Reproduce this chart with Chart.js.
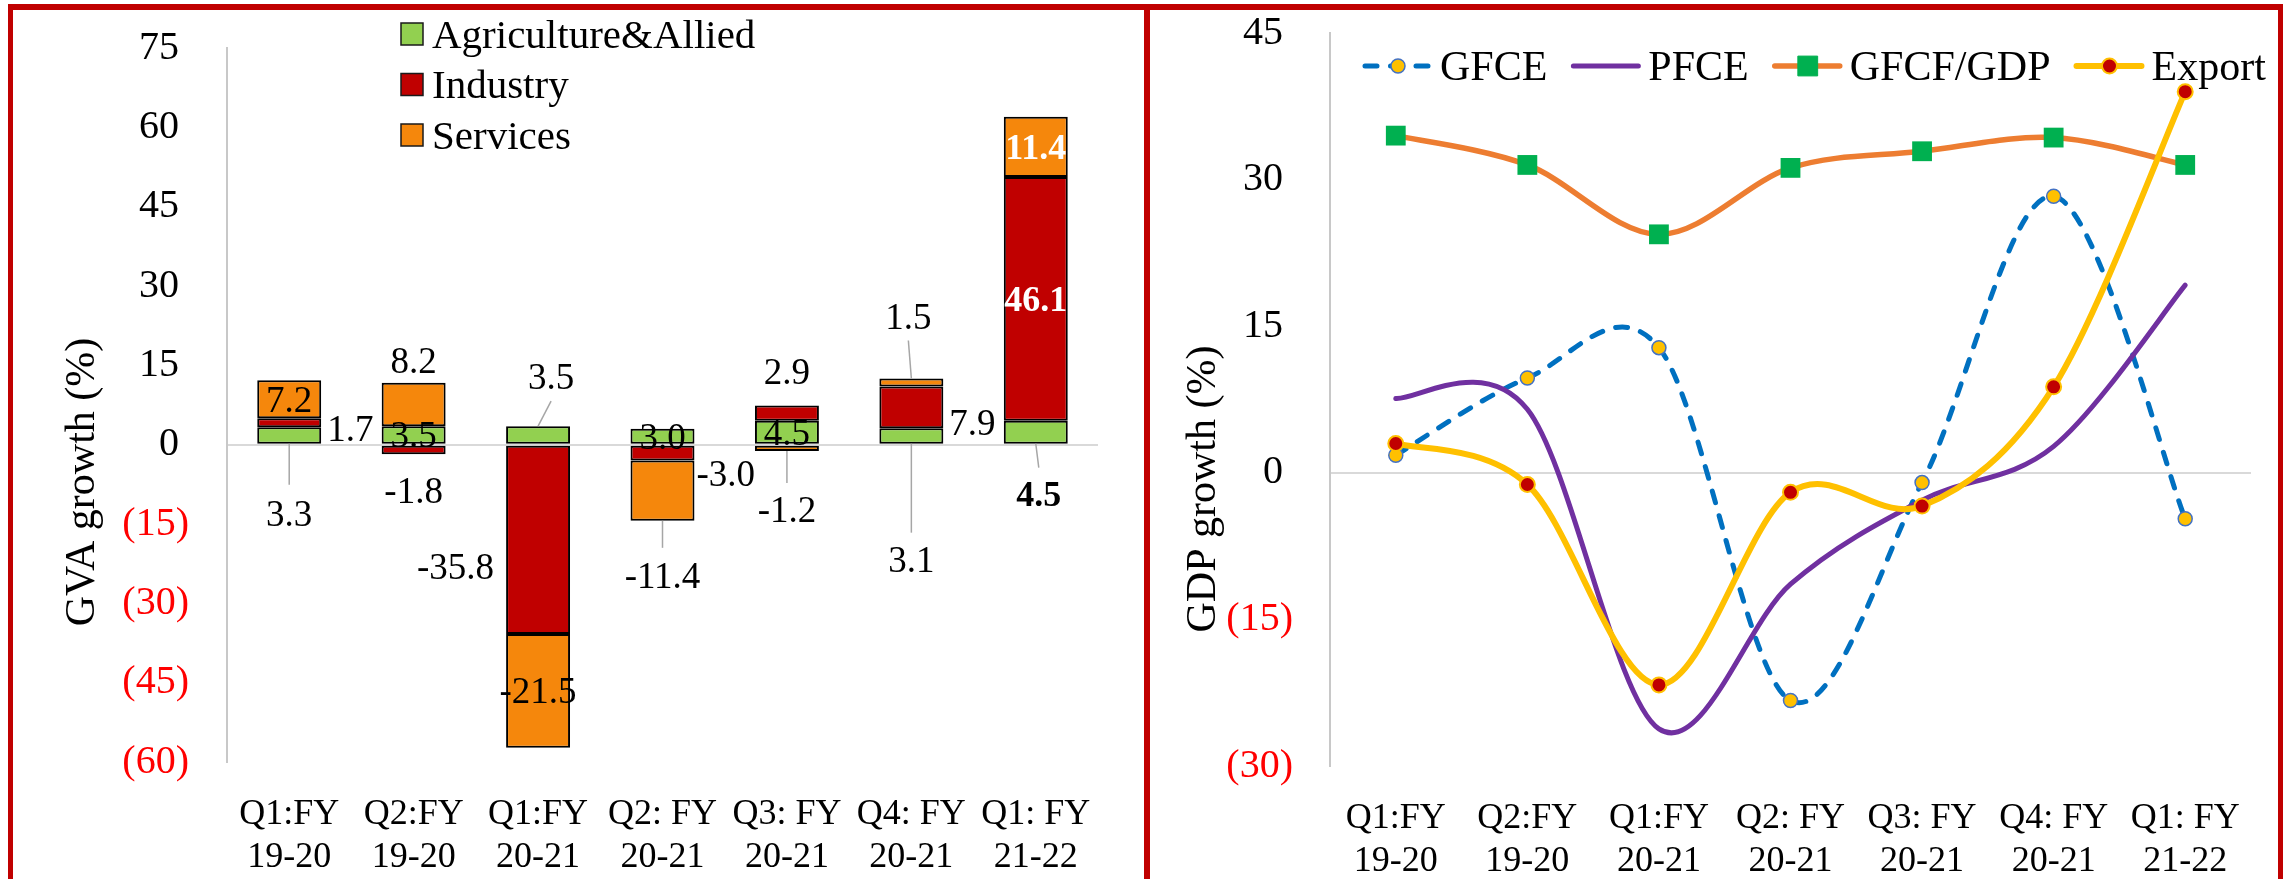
<!DOCTYPE html>
<html>
<head>
<meta charset="utf-8">
<script src="https://cdn.jsdelivr.net/npm/chart.js@4.4.1/dist/chart.umd.min.js"></script>
<style>
  html, body { margin: 0; padding: 0; background: #fff; }
  body { width: 2290px; height: 879px; position: relative; overflow: hidden; }
  canvas { position: absolute; top: 0; }
  #gva { left: 0; }
  #gdp { left: 1143px; }
  .frame { position: absolute; background: #C00000; }
</style>
</head>
<body>
<canvas id="gva" width="1143" height="879"></canvas>
<canvas id="gdp" width="1147" height="879"></canvas>
<div class="frame" style="left:8px;top:4px;width:2275px;height:6px"></div>
<div class="frame" style="left:8px;top:4px;width:5px;height:875px"></div>
<div class="frame" style="left:1144px;top:4px;width:6px;height:875px"></div>
<div class="frame" style="left:2278px;top:4px;width:5px;height:875px"></div>
<script>
// ---- data ----
const quarters = [
  ["Q1:FY", "19-20"], ["Q2:FY", "19-20"], ["Q1:FY", "20-21"],
  ["Q2: FY", "20-21"], ["Q3: FY", "20-21"], ["Q4: FY", "20-21"], ["Q1: FY", "21-22"]
];
const gvaSectors = ["Agriculture&Allied", "Industry", "Services"];
const agriculture = [3.3, 3.5, 3.5, 3.0, 4.5, 3.1, 4.5];
const industry    = [1.7, -1.8, -35.8, -3.0, 2.9, 7.9, 46.1];
const services    = [7.2, 8.2, -21.5, -11.4, -1.2, 1.5, 11.4];
const gvaTicks = [-60, -45, -30, -15, 0, 15, 30, 45, 60, 75];

const gdpSeries = ["GFCE", "PFCE", "GFCF/GDP", "Export"];
const gfce     = [1.8, 9.7, 12.8, -23.3, -1.0, 28.3, -4.7];
const pfce     = [7.6, 6.5, -26.2, -11.4, -2.8, 2.7, 19.2];
const gfcfGdp  = [34.5, 31.5, 24.4, 31.2, 32.9, 34.3, 31.5];
const exportGr = [3.0, -1.2, -21.7, -2.0, -3.4, 8.8, 39.0];
const gdpTicks = [-30, -15, 0, 15, 30, 45];

// ---- shared styling ----
const SERIF = "'Liberation Serif', 'Times New Roman', serif";
const fmtTick = v => v < 0 ? '(' + Math.abs(v) + ')' : v + ' ';
const tickColor = ctx => ctx.tick.value < 0 ? '#FF0000' : '#000000';
const zeroGrid = ctx => ctx.tick.value === 0 ? '#D9D9D9' : 'rgba(0,0,0,0)';

// fixed axis box sizes; label overhang must not push the plot area
function fixedHeight(h) {
  return s => { s.height = h; s.paddingLeft = 0; s.paddingRight = 0; s.paddingTop = 0; s.paddingBottom = 0; };
}
function fixedWidth(w) {
  return s => { s.width = w; s.paddingLeft = 0; s.paddingRight = 0; s.paddingTop = 0; s.paddingBottom = 0; };
}

function axisTitle(id, text, x, y, size) {
  return {
    id,
    afterDraw(chart) {
      const ctx = chart.ctx;
      ctx.save();
      ctx.translate(x, y);
      ctx.rotate(-Math.PI / 2);
      ctx.font = size + 'px ' + SERIF;
      ctx.fillStyle = '#000';
      ctx.textAlign = 'center';
      ctx.textBaseline = 'alphabetic';
      ctx.fillText(text, 0, 0);
      ctx.restore();
    }
  };
}

// ---- left: stacked GVA bars ----
// placement of each value label, per sector and quarter
const gvaLabelPlacement = [
  [{at: 'below', gap: 70, leader: 41}, {at: 'center'}, {at: 'above', gap: 50, dx: 13, leader: 25},
   {at: 'center'}, {at: 'center'}, {at: 'below', gap: 116, leader: 89},
   {at: 'below', gap: 50, dx: 3, leader: 24, bold: true}],
  [{at: 'right', gap: 6, dy: 6}, {at: 'below', gap: 36}, {at: 'left', gap: 12, dy: 27},
   {at: 'right', gap: 2, dy: 20}, {at: 'above', gap: 34}, {at: 'right', gap: 6, dy: 15},
   {at: 'center', bold: true, color: '#FFFFFF'}],
  [{at: 'center'}, {at: 'above', gap: 22}, {at: 'center'},
   {at: 'below', gap: 55, leader: 27}, {at: 'below', gap: 58, leader: 32},
   {at: 'above', gap: 62, dx: -3, leader: 38}, {at: 'center', bold: true, color: '#FFFFFF'}]
];

const barValueLabels = {
  id: 'barValueLabels',
  afterDatasetsDraw(chart) {
    const ctx = chart.ctx;
    chart.data.datasets.forEach((ds, di) => {
      const meta = chart.getDatasetMeta(di);
      meta.data.forEach((bar, i) => {
        const p = gvaLabelPlacement[di][i];
        const v = ds.data[i];
        const top = Math.min(bar.y, bar.base), bottom = Math.max(bar.y, bar.base);
        const half = bar.width / 2;
        const size = p.bold ? 36 : 37;
        let cx = bar.x + (p.dx || 0), cy = (top + bottom) / 2, align = 'center';
        let lead = null;
        if (p.at === 'above') {
          cy = top - p.gap;
          if (p.leader) lead = [bar.x, top, cx, top - p.leader];
        } else if (p.at === 'below') {
          cy = bottom + p.gap;
          if (p.leader) lead = [bar.x, bottom, cx, bottom + p.leader];
        } else if (p.at === 'right') {
          cx = bar.x + half + p.gap; cy += p.dy || 0; align = 'left';
        } else if (p.at === 'left') {
          cx = bar.x - half - p.gap; cy += p.dy || 0; align = 'right';
        }
        ctx.save();
        if (lead) {
          ctx.strokeStyle = '#A6A6A6';
          ctx.lineWidth = 1.5;
          ctx.beginPath();
          ctx.moveTo(lead[0], lead[1]);
          ctx.lineTo(lead[2], lead[3]);
          ctx.stroke();
        }
        ctx.font = (p.bold ? 'bold ' : '') + size + 'px ' + SERIF;
        ctx.fillStyle = p.color || '#000';
        ctx.textAlign = align;
        ctx.textBaseline = 'alphabetic';
        ctx.fillText(v.toFixed(1), cx, cy + 0.34 * size);
        ctx.restore();
      });
    });
  }
};

const gvaLegend = {
  id: 'gvaLegend',
  afterDraw(chart) {
    const ctx = chart.ctx;
    ctx.save();
    ctx.font = '41px ' + SERIF;
    ctx.textBaseline = 'alphabetic';
    chart.data.datasets.forEach((ds, i) => {
      const cy = 34 + i * 50.5;
      ctx.fillStyle = ds.backgroundColor;
      ctx.fillRect(401, cy - 11, 22, 22);
      ctx.strokeStyle = '#1a1a1a';
      ctx.lineWidth = 1.5;
      ctx.strokeRect(401, cy - 11, 22, 22);
      ctx.fillStyle = '#000';
      ctx.fillText(ds.label, 432, cy + 0.33 * 41);
    });
    ctx.restore();
  }
};

new Chart(document.getElementById('gva'), {
  type: 'bar',
  data: {
    labels: quarters,
    datasets: [
      {label: gvaSectors[0], data: agriculture, backgroundColor: '#92D050'},
      {label: gvaSectors[1], data: industry, backgroundColor: '#C00000'},
      {label: gvaSectors[2], data: services, backgroundColor: '#F5870C'}
    ]
  },
  options: {
    responsive: false,
    animation: false,
    devicePixelRatio: 1,
    layout: {padding: {left: 0, right: 45, top: 48, bottom: 0}},
    datasets: {
      bar: {borderColor: '#000000', borderWidth: 2, borderSkipped: false,
            categoryPercentage: 1, barPercentage: 0.514}
    },
    plugins: {legend: {display: false}, tooltip: {enabled: false}},
    scales: {
      x: {
        stacked: true,
        grid: {display: false},
        border: {display: false},
        ticks: {font: {family: SERIF, size: 36, lineHeight: 1.2}, color: '#000',
                padding: 23, maxRotation: 0, autoSkip: false},
        afterFit: fixedHeight(117)
      },
      y: {
        stacked: true, min: -60, max: 75,
        afterBuildTicks(s) { s.ticks = gvaTicks.map(v => ({value: v})); },
        ticks: {font: {family: SERIF, size: 40}, color: tickColor, padding: 38, callback: fmtTick},
        grid: {drawTicks: false, color: zeroGrid, lineWidth: 2},
        border: {display: true, color: '#C8C8C8', width: 2},
        afterFit: fixedWidth(227)
      }
    }
  },
  plugins: [barValueLabels, gvaLegend, axisTitle('gvaTitle', 'GVA growth (%)', 94, 482, 42)]
});

// ---- right: smoothed GDP component lines ----
// smooth each line through its points (cardinal spline, 1/6 tangents)
const cardinalSmoothing = {
  id: 'cardinalSmoothing',
  afterDatasetsUpdate(chart) {
    chart.data.datasets.forEach((ds, di) => {
      const meta = chart.getDatasetMeta(di);
      if (!meta.dataset) return;
      const pts = meta.data, n = pts.length;
      for (let i = 0; i < n; i++) {
        const p = pts[i];
        const prev = pts[Math.max(i - 1, 0)];
        const next = pts[Math.min(i + 1, n - 1)];
        const tx = (next.x - prev.x) / 6, ty = (next.y - prev.y) / 6;
        p.cp1x = p.x - tx; p.cp1y = p.y - ty;
        p.cp2x = p.x + tx; p.cp2y = p.y + ty;
      }
      meta.dataset._pointsUpdated = true;
    });
  }
};

function drawMarker(ctx, ds, x, y) {
  const r = ds.pointRadius;
  if (!r) return;
  ctx.save();
  ctx.fillStyle = ds.pointBackgroundColor;
  ctx.strokeStyle = ds.pointBorderColor;
  ctx.lineWidth = ds.pointBorderWidth || 0;
  ctx.beginPath();
  if (ds.pointStyle === 'rect') {
    const h = r * Math.SQRT1_2;
    ctx.rect(x - h, y - h, 2 * h, 2 * h);
  } else {
    ctx.arc(x, y, r, 0, Math.PI * 2);
  }
  ctx.fill();
  if (ctx.lineWidth) ctx.stroke();
  ctx.restore();
}

const gdpLegend = {
  id: 'gdpLegend',
  afterDraw(chart) {
    const ctx = chart.ctx;
    const cy = 66;
    let x = 219;
    ctx.save();
    ctx.font = '42px ' + SERIF;
    ctx.textBaseline = 'alphabetic';
    chart.data.datasets.forEach(ds => {
      ctx.save();
      ctx.strokeStyle = ds.borderColor;
      ctx.lineWidth = ds.borderWidth;
      ctx.lineCap = 'round';
      ctx.setLineDash(ds.borderDash || []);
      ctx.beginPath();
      ctx.moveTo(x + 3, cy);
      ctx.lineTo(x + 68, cy);
      ctx.stroke();
      ctx.restore();
      drawMarker(ctx, ds, x + 36, cy);
      ctx.fillStyle = '#000';
      ctx.fillText(ds.label, x + 78, cy + 0.33 * 42);
      x += 78 + ctx.measureText(ds.label).width + 23;
    });
    ctx.restore();
  }
};

const lineBase = {fill: false, tension: 0.4, borderCapStyle: 'round'};

new Chart(document.getElementById('gdp'), {
  type: 'line',
  data: {
    labels: quarters,
    datasets: [
      Object.assign({}, lineBase, {label: gdpSeries[0], data: gfce, borderColor: '#0070C0', borderWidth: 5,
        borderDash: [12, 13.5], pointStyle: 'circle', pointRadius: 7,
        pointBackgroundColor: '#FFC000', pointBorderColor: '#4472C4', pointBorderWidth: 1.5, order: 3}),
      Object.assign({}, lineBase, {label: gdpSeries[1], data: pfce, borderColor: '#7030A0', borderWidth: 5,
        pointRadius: 0, order: 2}),
      Object.assign({}, lineBase, {label: gdpSeries[2], data: gfcfGdp, borderColor: '#ED7D31', borderWidth: 5.5,
        pointStyle: 'rect', pointRadius: 14, pointBackgroundColor: '#00B050',
        pointBorderColor: '#00B050', pointBorderWidth: 0, order: 1}),
      Object.assign({}, lineBase, {label: gdpSeries[3], data: exportGr, borderColor: '#FFC000', borderWidth: 6,
        pointStyle: 'circle', pointRadius: 7.5, pointBackgroundColor: '#C00000',
        pointBorderColor: '#FFC000', pointBorderWidth: 2, order: 0})
    ]
  },
  options: {
    responsive: false,
    animation: false,
    devicePixelRatio: 1,
    layout: {padding: {left: 0, right: 39, top: 33, bottom: 0}},
    plugins: {legend: {display: false}, tooltip: {enabled: false}},
    scales: {
      x: {
        offset: true,
        grid: {display: false},
        border: {display: false},
        ticks: {font: {family: SERIF, size: 36, lineHeight: 1.2}, color: '#000',
                padding: 23, maxRotation: 0, autoSkip: false},
        afterFit: fixedHeight(113)
      },
      y: {
        min: -30, max: 45,
        afterBuildTicks(s) { s.ticks = gdpTicks.map(v => ({value: v})); },
        ticks: {font: {family: SERIF, size: 40}, color: tickColor, padding: 37, callback: fmtTick},
        grid: {drawTicks: false, color: zeroGrid, lineWidth: 2},
        border: {display: true, color: '#C8C8C8', width: 2},
        afterFit: fixedWidth(187)
      }
    }
  },
  plugins: [cardinalSmoothing, gdpLegend, axisTitle('gdpTitle', 'GDP growth (%)', 72, 489, 42)]
});
</script>
</body>
</html>
